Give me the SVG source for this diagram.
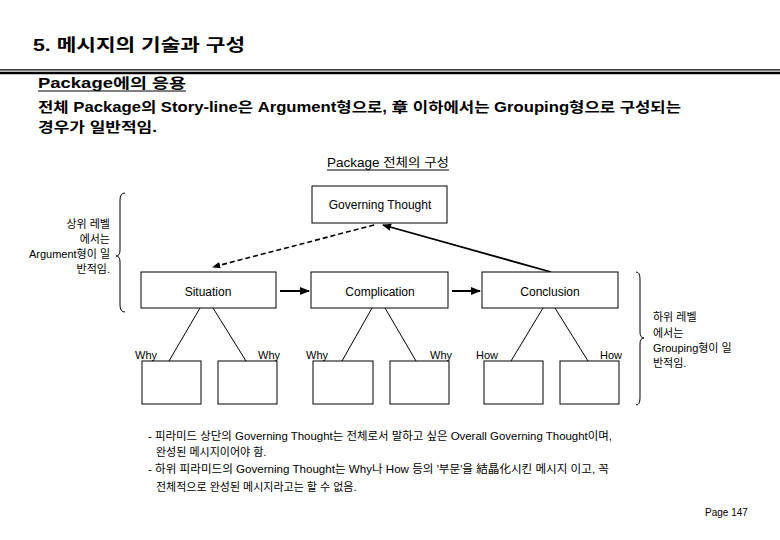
<svg xmlns="http://www.w3.org/2000/svg" width="780" height="540" viewBox="0 0 780 540">
<defs>
<style>
text{font-family:'Liberation Sans','Noto Sans CJK KR',sans-serif;fill:#000}
.box{fill:#fff;stroke:#000;stroke-width:1}
.lbl{font-size:12px;text-anchor:middle}
.sm{font-size:11px}
.thin{stroke:#000;stroke-width:1;fill:none}
.bold{font-weight:bold}
</style>
<marker id="ah" viewBox="0 0 10 10" refX="9" refY="5" markerWidth="5" markerHeight="5" orient="auto" markerUnits="strokeWidth">
<path d="M0,1 L10,5 L0,9 z" fill="#000"/>
</marker>
</defs>
<rect width="780" height="540" fill="#fff"/>
<g id="header">
<text x="33" y="51" class="bold" font-size="17" textLength="212" lengthAdjust="spacingAndGlyphs">5. 메시지의 기술과 구성</text>
<line x1="0" y1="69.8" x2="780" y2="69.8" stroke="#000" stroke-width="1.2"/>
<line x1="0" y1="73" x2="780" y2="73" stroke="#000" stroke-width="2.6"/>
<text x="38" y="88" class="bold" font-size="14" textLength="148" lengthAdjust="spacingAndGlyphs">Package에의 응용</text>
<line x1="38" y1="91" x2="186" y2="91" stroke="#000" stroke-width="1.2"/>
<text x="38" y="112" class="bold" font-size="14" textLength="643" lengthAdjust="spacingAndGlyphs">전체 Package의 Story-line은 Argument형으로, 章 이하에서는 Grouping형으로 구성되는</text>
<text x="38" y="132" class="bold" font-size="14" textLength="119" lengthAdjust="spacingAndGlyphs">경우가 일반적임.</text>
</g>
<g id="caption">
<text x="327" y="167" font-size="12" textLength="122" lengthAdjust="spacingAndGlyphs">Package 전체의 구성</text>
<line x1="327" y1="170" x2="449" y2="170" stroke="#000" stroke-width="1"/>
</g>
<g id="connectors">
<line x1="551" y1="272" x2="383" y2="225" stroke="#000" stroke-width="1.8" marker-end="url(#ah)"/>
<line x1="374" y1="225" x2="213" y2="267" stroke="#000" stroke-width="1.6" stroke-dasharray="5,3" marker-end="url(#ah)"/>
<line x1="280" y1="291" x2="309" y2="291" stroke="#000" stroke-width="2" marker-end="url(#ah)"/>
<line x1="452" y1="291" x2="480" y2="291" stroke="#000" stroke-width="2" marker-end="url(#ah)"/>
<line class="thin" x1="200" y1="308" x2="169" y2="361"/>
<line class="thin" x1="213" y1="308" x2="246" y2="361"/>
<line class="thin" x1="372" y1="308" x2="342" y2="361"/>
<line class="thin" x1="385" y1="308" x2="416" y2="361"/>
<line class="thin" x1="543" y1="308" x2="511" y2="361"/>
<line class="thin" x1="555" y1="308" x2="588" y2="361"/>
</g>
<g id="governing">
<rect class="box" x="312" y="186" width="135" height="37"/>
<text x="380" y="209" class="lbl">Governing Thought</text>
</g>
<g id="situation">
<rect class="box" x="141" y="272" width="135" height="36"/>
<text x="208" y="296" class="lbl">Situation</text>
</g>
<g id="complication">
<rect class="box" x="311" y="272" width="137" height="36"/>
<text x="380" y="296" class="lbl">Complication</text>
</g>
<g id="conclusion">
<rect class="box" x="482" y="272" width="136" height="36"/>
<text x="550" y="296" class="lbl">Conclusion</text>
</g>
<g id="why1"><rect class="box" x="142" y="361" width="59" height="43"/><text x="135" y="359" class="sm">Why</text></g>
<g id="why2"><rect class="box" x="218" y="361" width="59" height="43"/><text x="280" y="359" class="sm" text-anchor="end">Why</text></g>
<g id="why3"><rect class="box" x="313" y="361" width="60" height="43"/><text x="306" y="359" class="sm">Why</text></g>
<g id="why4"><rect class="box" x="390" y="361" width="59" height="43"/><text x="452" y="359" class="sm" text-anchor="end">Why</text></g>
<g id="how1"><rect class="box" x="484" y="361" width="59" height="43"/><text x="476" y="359" class="sm">How</text></g>
<g id="how2"><rect class="box" x="560" y="361" width="59" height="43"/><text x="622" y="359" class="sm" text-anchor="end">How</text></g>
<g id="upper-note">
<path class="thin" d="M125,193 Q120,193 120,200 L120,250 Q120,256 116,256 Q120,256 120,262 L120,305 Q120,312 125,312"/>
<text class="sm" text-anchor="end" x="110" y="228">상위 레벨</text>
<text class="sm" text-anchor="end" x="110" y="243">에서는</text>
<text class="sm" text-anchor="end" x="110" y="258">Argument형이 일</text>
<text class="sm" text-anchor="end" x="110" y="273">반적임.</text>
</g>
<g id="lower-note">
<path class="thin" d="M636,272 Q640,272 640,279 L640,332 Q640,338 644,338 Q640,338 640,344 L640,398 Q640,405 636,405"/>
<text class="sm" x="653" y="321">하위 레벨</text>
<text class="sm" x="653" y="337">에서는</text>
<text class="sm" x="653" y="352">Grouping형이 일</text>
<text class="sm" x="653" y="367">반적임.</text>
</g>
<g id="notes">
<text class="sm" x="148" y="440" textLength="464" lengthAdjust="spacingAndGlyphs">- 피라미드 상단의 Governing Thought는 전체로서 말하고 싶은 Overall Governing Thought이며,</text>
<text class="sm" x="156" y="456">완성된 메시지이어야 함.</text>
<text class="sm" x="148" y="473" textLength="461" lengthAdjust="spacingAndGlyphs">- 하위 피라미드의 Governing Thought는 Why나 How 등의 '부문'을 結晶化시킨 메시지 이고, 꼭</text>
<text class="sm" x="156" y="491">전체적으로 완성된 메시지라고는 할 수 없음.</text>
</g>
<g id="page">
<text x="705" y="516" font-size="10">Page 147</text>
</g>
</svg>
